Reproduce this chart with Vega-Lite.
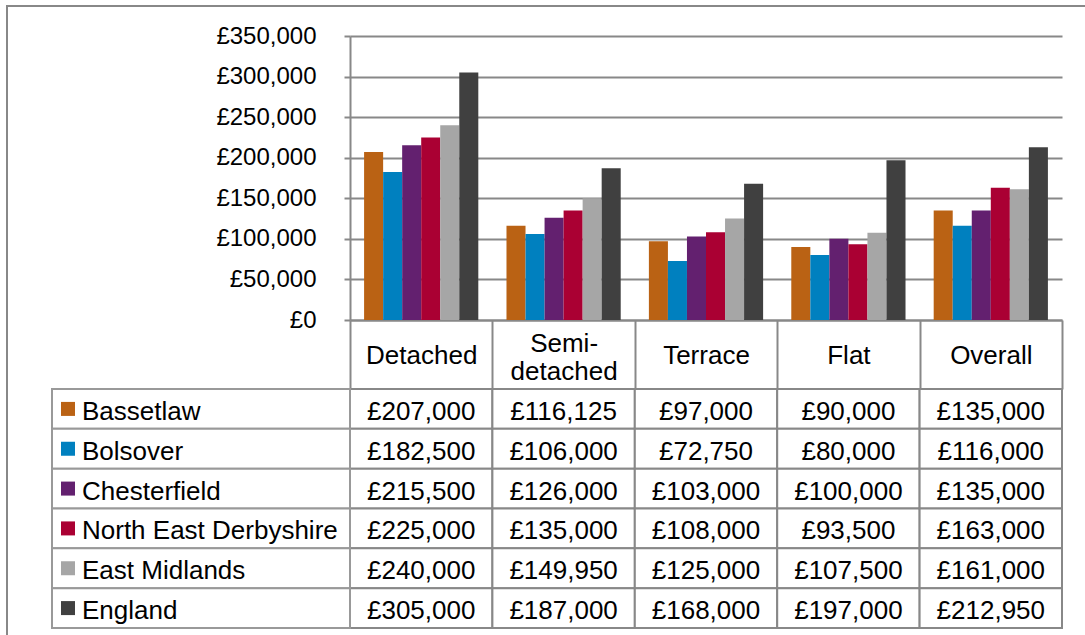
{
  "$schema": "https://vega.github.io/schema/vega-lite/v6.json",
  "width": 1078,
  "height": 629,
  "autosize": {"type": "none"},
  "padding": {"left": 7, "top": 6, "right": 0, "bottom": 0},
  "background": "white",
  "config": {
    "view": {"stroke": null},
    "font": "Liberation Sans",
    "locale": {"number": {"decimal": ".", "thousands": ",", "grouping": [3], "currency": ["£", ""]}}
  },
  "data": {"values": [
    {"c": "Detached", "s": "Bassetlaw", "v": 207000},
    {"c": "Detached", "s": "Bolsover", "v": 182500},
    {"c": "Detached", "s": "Chesterfield", "v": 215500},
    {"c": "Detached", "s": "North East Derbyshire", "v": 225000},
    {"c": "Detached", "s": "East Midlands", "v": 240000},
    {"c": "Detached", "s": "England", "v": 305000},
    {"c": "Semi-detached", "s": "Bassetlaw", "v": 116125},
    {"c": "Semi-detached", "s": "Bolsover", "v": 106000},
    {"c": "Semi-detached", "s": "Chesterfield", "v": 126000},
    {"c": "Semi-detached", "s": "North East Derbyshire", "v": 135000},
    {"c": "Semi-detached", "s": "East Midlands", "v": 149950},
    {"c": "Semi-detached", "s": "England", "v": 187000},
    {"c": "Terrace", "s": "Bassetlaw", "v": 97000},
    {"c": "Terrace", "s": "Bolsover", "v": 72750},
    {"c": "Terrace", "s": "Chesterfield", "v": 103000},
    {"c": "Terrace", "s": "North East Derbyshire", "v": 108000},
    {"c": "Terrace", "s": "East Midlands", "v": 125000},
    {"c": "Terrace", "s": "England", "v": 168000},
    {"c": "Flat", "s": "Bassetlaw", "v": 90000},
    {"c": "Flat", "s": "Bolsover", "v": 80000},
    {"c": "Flat", "s": "Chesterfield", "v": 100000},
    {"c": "Flat", "s": "North East Derbyshire", "v": 93500},
    {"c": "Flat", "s": "East Midlands", "v": 107500},
    {"c": "Flat", "s": "England", "v": 197000},
    {"c": "Overall", "s": "Bassetlaw", "v": 135000},
    {"c": "Overall", "s": "Bolsover", "v": 116000},
    {"c": "Overall", "s": "Chesterfield", "v": 135000},
    {"c": "Overall", "s": "North East Derbyshire", "v": 163000},
    {"c": "Overall", "s": "East Midlands", "v": 161000},
    {"c": "Overall", "s": "England", "v": 212950}
  ]},
  "resolve": {"scale": {"x": "independent", "y": "independent"}},
  "layer": [
    {
      "transform": [{"filter": "datum.c === 'Detached' && datum.s === 'England'"}],
      "mark": {"type": "rect", "fill": null, "fillOpacity": 0, "stroke": "#888888", "strokeWidth": 2},
      "encoding": {
        "x": {"datum": "frame", "type": "nominal",
          "scale": {"domain": ["frame"], "range": [0, 1090], "paddingInner": 0, "paddingOuter": 0},
          "axis": null},
        "y": {"datum": "frame", "type": "nominal",
          "scale": {"domain": ["frame"], "range": [0, 645], "paddingInner": 0, "paddingOuter": 0},
          "axis": null}
      }
    },
    {
      "mark": {"type": "bar"},
      "encoding": {
        "x": {
          "field": "c", "type": "nominal", "sort": null,
          "scale": {"domain": ["Detached", "Semi-detached", "Terrace", "Flat", "Overall"], "range": [343, 1055], "paddingInner": 0, "paddingOuter": 0},
          "axis": {
            "orient": "bottom", "offset": -315, "title": null, "labelAngle": 0,
            "labelFontSize": 26, "labelColor": "black", "labelFont": "Liberation Sans",
            "labelBaseline": "middle",
            "labelPadding": {"condition": {"test": "datum.value === 'Semi-detached'", "value": -46}, "value": -34},
            "labelLineHeight": 28,
            "labelExpr": "datum.label == 'Semi-detached' ? ['Semi-', 'detached'] : datum.label",
            "tickBand": "extent", "tickSize": 69, "tickColor": "#888888", "tickWidth": 2,
            "domainColor": "#888888", "domainWidth": 2, "grid": false,
            "labelBound": false, "labelOverlap": false, "labelFlush": false
          }
        },
        "xOffset": {
          "field": "s", "type": "nominal",
          "scale": {"domain": ["Bassetlaw", "Bolsover", "Chesterfield", "North East Derbyshire", "East Midlands", "England"], "paddingInner": 0, "paddingOuter": 0.74}
        },
        "y": {
          "field": "v", "type": "quantitative",
          "scale": {"domain": [0, 350000], "range": [314, 30], "nice": false},
          "axis": {
            "orient": "left", "offset": -343, "title": null,
            "values": [0, 50000, 100000, 150000, 200000, 250000, 300000, 350000],
            "format": "$,.0f", "labelFontSize": 24, "labelColor": "black", "labelFont": "Liberation Sans",
            "labelPadding": 28, "tickSize": 6, "tickColor": "#888888", "tickWidth": 2,
            "domainColor": "#888888", "domainWidth": 2,
            "grid": true, "gridColor": "#888888", "gridWidth": 2
          }
        },
        "color": {
          "field": "s", "type": "nominal",
          "scale": {"domain": ["Bassetlaw", "Bolsover", "Chesterfield", "North East Derbyshire", "East Midlands", "England"], "range": ["#BA6214", "#0080BF", "#63206F", "#AA0033", "#A6A6A6", "#404040"]},
          "legend": null
        }
      }
    },
    {
      "mark": {"type": "rect", "fill": "white", "stroke": "#888888", "strokeWidth": 2},
      "encoding": {
        "x": {"field": "c", "type": "nominal", "sort": null,
          "scale": {"domain": ["Detached", "Semi-detached", "Terrace", "Flat", "Overall"], "range": [343, 1055], "paddingInner": 0, "paddingOuter": 0},
          "axis": null},
        "y": {"field": "s", "type": "nominal", "sort": null,
          "scale": {"domain": ["Bassetlaw", "Bolsover", "Chesterfield", "North East Derbyshire", "East Midlands", "England"], "range": [383, 622], "paddingInner": 0, "paddingOuter": 0},
          "axis": null}
      }
    },
    {
      "mark": {"type": "text", "fontSize": 26, "baseline": "middle", "dy": 3, "color": "black", "font": "Liberation Sans"},
      "encoding": {
        "x": {"field": "c", "type": "nominal", "sort": null,
          "scale": {"domain": ["Detached", "Semi-detached", "Terrace", "Flat", "Overall"], "range": [343, 1055], "paddingInner": 0, "paddingOuter": 0},
          "axis": null},
        "y": {"field": "s", "type": "nominal", "sort": null,
          "scale": {"domain": ["Bassetlaw", "Bolsover", "Chesterfield", "North East Derbyshire", "East Midlands", "England"], "range": [383, 622], "paddingInner": 0, "paddingOuter": 0},
          "axis": null},
        "text": {"field": "v", "type": "quantitative", "format": "$,.0f"}
      }
    },
    {
      "transform": [{"filter": "datum.c === 'Detached'"}],
      "mark": {"type": "rect", "fill": "white", "stroke": "#999999", "strokeWidth": 2},
      "encoding": {
        "x": {"field": "c", "type": "nominal",
          "scale": {"domain": ["Detached"], "range": [45, 343], "paddingInner": 0, "paddingOuter": 0},
          "axis": null},
        "y": {"field": "s", "type": "nominal", "sort": null,
          "scale": {"domain": ["Bassetlaw", "Bolsover", "Chesterfield", "North East Derbyshire", "East Midlands", "England"], "range": [383, 622], "paddingInner": 0, "paddingOuter": 0},
          "axis": null}
      }
    },
    {
      "transform": [{"filter": "datum.c === 'Detached'"}],
      "mark": {"type": "square", "size": 196, "filled": true, "opacity": 1},
      "encoding": {
        "x": {"datum": "marker", "type": "nominal",
          "scale": {"type": "point", "domain": ["marker", "label"], "range": [61, 75], "padding": 0},
          "axis": null},
        "y": {"field": "s", "type": "nominal", "sort": null,
          "scale": {"domain": ["Bassetlaw", "Bolsover", "Chesterfield", "North East Derbyshire", "East Midlands", "England"], "range": [383, 622], "paddingInner": 0, "paddingOuter": 0},
          "axis": null},
        "color": {"field": "s", "type": "nominal", "legend": null}
      }
    },
    {
      "transform": [{"filter": "datum.c === 'Detached'"}],
      "mark": {"type": "text", "fontSize": 26, "baseline": "middle", "align": "left", "dy": 3, "color": "black", "font": "Liberation Sans"},
      "encoding": {
        "x": {"datum": "label", "type": "nominal",
          "scale": {"type": "point", "domain": ["marker", "label"], "range": [61, 75], "padding": 0},
          "axis": null},
        "y": {"field": "s", "type": "nominal", "sort": null,
          "scale": {"domain": ["Bassetlaw", "Bolsover", "Chesterfield", "North East Derbyshire", "East Midlands", "England"], "range": [383, 622], "paddingInner": 0, "paddingOuter": 0},
          "axis": null},
        "text": {"field": "s", "type": "nominal"}
      }
    }
  ]
}
